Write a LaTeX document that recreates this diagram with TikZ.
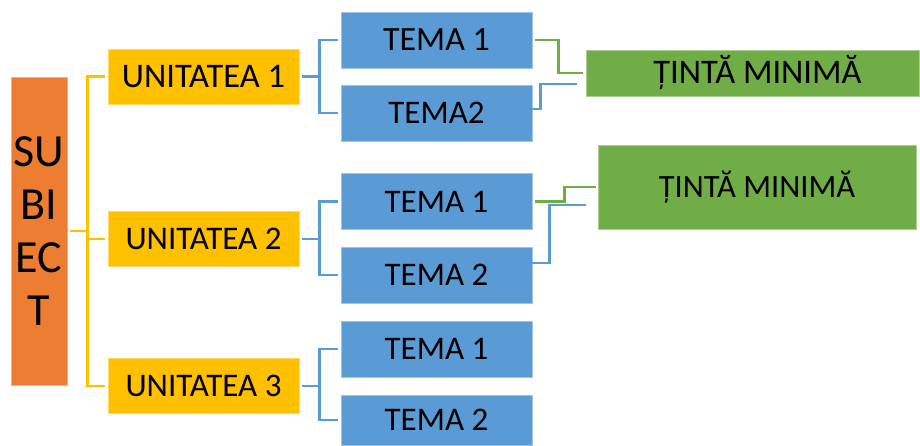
\documentclass[tikz,border=0pt]{standalone}
\usepackage{fontspec}
\setmainfont{Carlito}
\definecolor{corange}{HTML}{ED7D31}
\definecolor{cgold}{HTML}{FFC000}
\definecolor{cblue}{HTML}{5B9BD5}
\definecolor{cgreen}{HTML}{70AD47}
\begin{document}
\begin{tikzpicture}[x=1pt,y=-1pt,
  box/.style={rectangle, inner sep=0pt, line width=0.6pt, text=black,
    font=\fontsize{33}{38}\selectfont},
  subjbox/.style={box, fill=corange, draw=corange!60!white, minimum width=56pt, minimum height=308pt,
    align=center, font=\fontsize{46}{53}\selectfont},
  unitbox/.style={box, fill=cgold, draw=cgold!60!white, minimum width=191pt, minimum height=55pt},
  temabox/.style={box, fill=cblue, draw=cblue!60!white, minimum width=191pt, minimum height=56pt},
  goalbox/.style={box, fill=cgreen, draw=cgreen!60!white, font=\fontsize{32.5}{38}\selectfont},
  big/.style={font=\fontsize{34.5}{40}\selectfont},
  yline/.style={draw=cgold, line width=2.7pt},
  bline/.style={draw=cblue, line width=2.7pt},
  gline/.style={draw=cgreen, line width=2.7pt}]
\useasboundingbox (0,0) rectangle (920,445);

\node[subjbox] (subj) at (39,231) {SU\\BI\\EC\\T};

\node[unitbox, big] (u1) at (203.5,76.5) {UNITATEA 1};
\node[unitbox] (u2) at (203.5,239) {UNITATEA 2};
\node[unitbox] (u3) at (203.5,386) {UNITATEA 3};

\node[temabox, font=\fontsize{34}{40}\selectfont] (t11) at (436.5,40) {TEMA 1};
\node[temabox] (t12) at (436.5,113) {TEMA2};
\node[temabox] (t21) at (436.5,201.5) {TEMA 1};
\node[temabox] (t22) at (436.5,275) {TEMA 2};
\node[temabox] (t31) at (436.5,349) {TEMA 1};
\node[temabox, minimum height=50pt] (t32) at (436.5,420) {TEMA 2};

\node[goalbox, big, minimum width=333pt, minimum height=46pt] (g1) at (752.5,73) {\hspace*{10pt}ȚINTĂ MINIMĂ};
\node[goalbox, minimum width=318pt, minimum height=84pt] (g2) at (757,187) {ȚINTĂ MINIMĂ};

% yellow connectors
\draw[yline] ([xshift=3pt]subj.east) -- ([xshift=-20pt]u2.west |- subj.east);
\draw[yline] ([xshift=-3pt]u1.west) -| ([xshift=-20pt]u3.west) -- ([xshift=-3pt]u3.west);
\draw[yline] ([xshift=-20pt]u2.west) -- ([xshift=-3pt]u2.west);

% blue connectors
\draw[bline] ([xshift=3pt]u1.east) -- ([xshift=-21pt]t11.west |- u1.east);
\draw[bline] ([xshift=-3pt]t11.west) -| ([xshift=-21pt]t12.west) -- ([xshift=-3pt]t12.west);
\draw[bline] ([xshift=3pt]u2.east) -- ([xshift=-21pt]t21.west |- u2.east);
\draw[bline] ([xshift=-3pt]t21.west) -| ([xshift=-21pt]t22.west) -- ([xshift=-3pt]t22.west);
\draw[bline] ([xshift=3pt]u3.east) -- ([xshift=-21pt]t31.west |- u3.east);
\draw[bline] ([xshift=-3pt]t31.west) -| ([xshift=-21pt]t32.west) -- ([xshift=-3pt]t32.west);

% links to goals
\draw[gline] ([xshift=3pt]t11.east) -| ([xshift=-27pt]g1.west) -- ([xshift=-3pt]g1.west);
\draw[bline] ([yshift=4pt]t12.east) -| ([xshift=-45pt,yshift=-11pt]g1.west) -- ([xshift=-9pt,yshift=-11pt]g1.west);
\draw[gline] ([xshift=3pt]t21.east) -| ([xshift=-33pt]g2.west) -- ([xshift=-2pt]g2.west);
\draw[bline] ([yshift=12pt]t22.east) -| ([xshift=-48pt,yshift=-18pt]g2.west) -- ([xshift=-12pt,yshift=-18pt]g2.west);
\end{tikzpicture}
\end{document}
